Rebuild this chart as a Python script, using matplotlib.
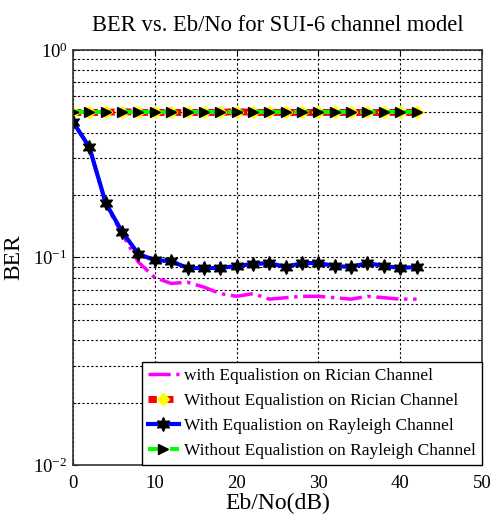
import matplotlib
matplotlib.use("Agg")
import matplotlib.pyplot as plt
from matplotlib.ticker import FuncFormatter, LogLocator
import numpy as np

plt.rcParams['font.family'] = ['Liberation Serif', 'DejaVu Serif']
plt.rcParams['mathtext.fontset'] = 'stix'

ebno = [0, 2, 4, 6, 8, 10, 12, 14, 16, 18, 20, 22, 24, 26, 28, 30, 32, 34, 36, 38, 40, 42]
ber_rician_eq = [0.45, 0.34, 0.18, 0.13, 0.095, 0.080, 0.075, 0.076, 0.072, 0.067, 0.065,
                 0.067, 0.063, 0.064, 0.065, 0.065, 0.064, 0.063, 0.065, 0.064, 0.063, 0.063]
ber_rician_noeq = [0.50, 0.50, 0.50, 0.505, 0.50, 0.50, 0.50, 0.50, 0.50, 0.50, 0.505,
                   0.50, 0.50, 0.50, 0.50, 0.50, 0.50, 0.50, 0.50, 0.50, 0.50, 0.50]
ber_rayleigh_eq = [0.45, 0.34, 0.183, 0.133, 0.104, 0.097, 0.096, 0.089, 0.089, 0.089, 0.091,
                   0.093, 0.094, 0.090, 0.094, 0.094, 0.091, 0.090, 0.094, 0.091, 0.089, 0.090]
ber_rayleigh_noeq = [0.50, 0.50, 0.50, 0.50, 0.50, 0.50, 0.50, 0.50, 0.50, 0.50, 0.50,
                     0.50, 0.50, 0.50, 0.50, 0.50, 0.50, 0.50, 0.50, 0.50, 0.50, 0.50]
labels = ['with Equalistion on Rician Channel',
          'Without Equalistion on Rician Channel',
          'With Equalistion on Rayleigh Channel',
          'Without Equalistion on Rayleigh Channel']

fig = plt.figure(figsize=(4.98, 5.18), dpi=100)
ax = fig.add_axes([0.1466, 0.1023, 0.8213, 0.8012])

ax.semilogy(ebno, ber_rician_eq, color='magenta', linestyle='-.', linewidth=2.5, label=labels[0])
ax.semilogy(ebno, ber_rician_noeq, color='red', linestyle=(0, (1.2, 1.2)), linewidth=5,
            marker='D', markersize=6, markerfacecolor='yellow', markeredgecolor='yellow',
            label=labels[1])
ax.semilogy(ebno, ber_rayleigh_eq, color='blue', linestyle='-', linewidth=3,
            marker=(6, 1, 0), markersize=10, markerfacecolor='black', markeredgecolor='black',
            label=labels[2])
ax.semilogy(ebno, ber_rayleigh_noeq, color='#00ff00', linestyle='--', linewidth=3,
            marker='>', markersize=7, markerfacecolor='black', markeredgecolor='black',
            label=labels[3])

ax.set_xlim(0, 50)
ax.set_ylim(1e-2, 1)
ax.set_xticks([0, 10, 20, 30, 40, 50])
ax.yaxis.set_major_locator(LogLocator(base=10, numticks=5))
ax.yaxis.set_major_formatter(FuncFormatter(
    lambda v, p: r'$\mathregular{10^{%d}}$' % int(round(np.log10(v)))))
ax.grid(True, which='major', linestyle=(0, (2, 2)), color='black', linewidth=0.8)
ax.grid(True, which='minor', axis='y', linestyle=(0, (2, 2)), color='black', linewidth=0.8)
ax.tick_params(which='both', direction='in', top=True, right=True, labelsize=13.5)
ax.tick_params(axis='x', pad=7)
ax.tick_params(axis='y', pad=4)
for s in ax.spines.values():
    s.set_linewidth(1.2)
    s.set_color('#333333')

ax.set_title('BER vs. Eb/No for SUI-6 channel model', fontsize=16.3, pad=14)
ax.set_xlabel('Eb/No(dB)', fontsize=17, labelpad=1)
ax.set_ylabel('BER', fontsize=17)
ax.yaxis.set_label_coords(-0.12, 0.5)

leg = ax.legend(loc='lower right', fontsize=12.5, fancybox=False, framealpha=1,
                edgecolor='black', borderaxespad=0, handlelength=1.8, handletextpad=0.3,
                labelspacing=0.5, borderpad=0.35)
leg.get_frame().set_linewidth(1.0)

fig.savefig('out.png', dpi=100)
